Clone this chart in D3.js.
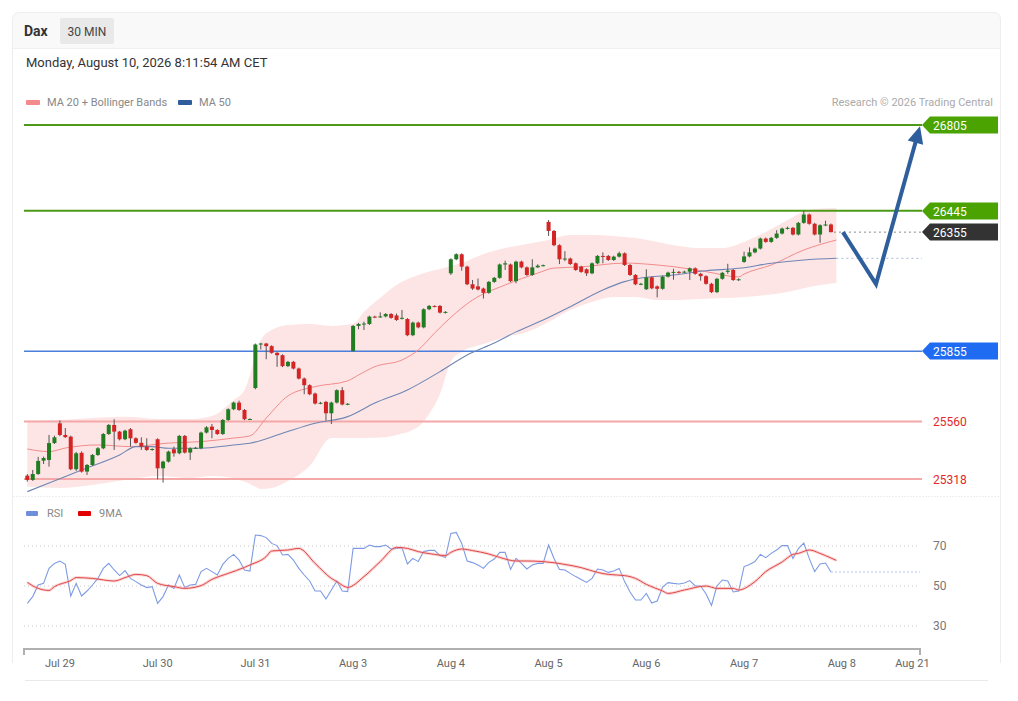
<!DOCTYPE html>
<html>
<head>
<meta charset="utf-8">
<script src="https://cdn.jsdelivr.net/npm/d3@7"></script>
<style>
  body { margin: 0; background: #fff; font-family: Roboto, Arial, sans-serif; }
</style>
</head>
<body>
<svg id="chart"></svg>
<script>
// ---- data (30 min candles, index 0 = first candle) ----
var open = [25332,25314,25339,25395,25398,25469,25552,25503,25496,25359,25428,25349,25377,25419,25447,25507,25545,25517,25485,25527,
  25489,25470,25454,25440,25485,25363,25391,25443,25426,25499,25429,25447,25447,25513,25538,25524,25507,25566,25611,25639,
  25608,25569,25700,25883,25887,25876,25848,25838,25792,25810,25782,25740,25712,25677,25635,25642,25594,25639,25691,25631,
  25856,25961,25969,25969,26000,25998,26001,26011,26005,25992,25990,25922,25975,25955,26031,26045,26045,26017,26182,26241,
  26262,26210,26136,26127,26118,26100,26146,26163,26219,26219,26149,26231,26207,26175,26207,26214,26398,26360,26300,26241,
  26244,26224,26210,26199,26182,26224,26255,26255,26238,26252,26266,26217,26175,26136,26115,26165,26127,26117,26168,26185,
  26188,26186,26189,26203,26180,26170,26138,26103,26159,26188,26196,26154,26230,26253,26270,26286,26328,26314,26331,26349,
  26370,26373,26345,26394,26429,26390,26345,26384,26387];
var high = [25339,25356,25411,25412,25503,25500,25564,25532,25500,25432,25434,25381,25423,25452,25511,25549,25569,25520,25525,25532,
  25493,25493,25489,25447,25489,25395,25437,25454,25503,25503,25451,25453,25517,25540,25549,25527,25570,25615,25643,25647,
  25612,25573,25887,25890,25890,25880,25851,25842,25814,25814,25786,25744,25716,25681,25642,25646,25643,25695,25704,25637,
  25965,25974,25979,26004,26004,26018,26015,26015,26013,26028,25994,25979,25979,26035,26049,26047,26049,26023,26245,26266,
  26266,26214,26154,26160,26122,26150,26167,26223,26235,26223,26235,26235,26211,26241,26220,26219,26406,26364,26304,26275,
  26248,26228,26214,26203,26228,26259,26270,26259,26256,26273,26270,26221,26179,26142,26199,26169,26131,26172,26189,26201,
  26192,26193,26207,26207,26184,26174,26142,26163,26188,26222,26200,26161,26273,26291,26290,26332,26332,26335,26363,26374,
  26378,26377,26398,26445,26433,26394,26388,26403,26391];
var low = [25307,25310,25335,25381,25370,25465,25498,25490,25355,25352,25345,25335,25373,25415,25443,25503,25440,25480,25481,25454,
  25466,25440,25436,25437,25317,25303,25387,25412,25422,25425,25398,25444,25443,25509,25489,25503,25503,25562,25607,25604,
  25565,25566,25695,25862,25821,25844,25789,25788,25788,25778,25736,25674,25670,25631,25632,25563,25549,25635,25627,25628,
  25852,25947,25944,25965,25994,25995,25997,25991,25982,25988,25918,25918,25951,25951,26027,26039,26013,26013,26175,26237,
  26193,26132,26112,26110,26076,26096,26142,26159,26196,26145,26140,26203,26171,26171,26205,26211,26339,26296,26221,26233,
  26217,26192,26184,26171,26178,26220,26224,26234,26234,26248,26213,26171,26132,26132,26112,26115,26081,26113,26164,26155,
  26180,26182,26154,26176,26151,26134,26099,26099,26155,26180,26150,26150,26226,26249,26266,26282,26310,26310,26327,26345,
  26366,26341,26341,26390,26386,26341,26310,26380,26354];
var close = [25314,25339,25394,25406,25469,25493,25503,25494,25359,25426,25349,25377,25419,25447,25507,25545,25517,25485,25521,25489,
  25470,25454,25440,25444,25363,25391,25433,25426,25499,25429,25447,25449,25513,25535,25524,25507,25566,25611,25639,25608,
  25569,25570,25883,25887,25876,25848,25838,25792,25810,25782,25740,25712,25674,25635,25638,25594,25639,25691,25631,25634,
  25961,25969,25971,26000,25998,26001,26011,25995,25986,25995,25922,25975,25955,26031,26045,26043,26017,26020,26241,26262,
  26210,26136,26118,26114,26100,26146,26163,26219,26224,26149,26231,26207,26175,26207,26214,26216,26360,26300,26241,26244,
  26221,26196,26188,26182,26224,26255,26252,26238,26252,26266,26217,26175,26136,26138,26165,26119,26117,26168,26185,26188,
  26186,26189,26203,26180,26170,26138,26103,26159,26184,26193,26154,26157,26253,26270,26286,26328,26314,26331,26349,26370,
  26373,26345,26394,26429,26390,26345,26384,26387,26355];

// Bollinger bands (20)
var bandIdx   = [0,6,12,18,24,30,34,38,40,41,42,43,45,48,52,56,60,62,65,68,72,74,76,78,80,84,88,92,96,100,104,108,112,116,120,124,128,132,136,140,144,149];
var bandUpper = [25562,25566,25574,25579,25570,25570,25583,25650,25692,25755,25839,25902,25944,25965,25969,25961,25970,26020,26079,
  26133,26175,26190,26200,26213,26225,26263,26288,26305,26322,26343,26343,26339,26330,26314,26297,26288,26288,26314,26356,26406,26448,26456];
var bandLower = [25285,25280,25293,25314,25331,25322,25331,25322,25306,25297,25285,25276,25280,25310,25373,25490,25490,25490,25492,
  25503,25537,25591,25675,25810,25852,25885,25915,25936,25978,26028,26062,26083,26083,26070,26070,26074,26078,26083,26091,26104,26125,26141];

var ma20Idx = [0,4,7,13,19,26,32,38,41,44,48,53,59,61,64,69,72,75,78,82,88,94,97,102,110,116,119,125,131,132,137,143,149];
var ma20Val = [25444,25433,25448,25461,25454,25469,25475,25490,25499,25574,25667,25706,25730,25755,25790,25818,25860,25931,25997,26070,
  26133,26183,26204,26209,26225,26217,26210,26189,26167,26179,26217,26280,26322];

var ma50Idx = [0,4,10,17,20,23,26,32,38,41,47,53,59,64,70,76,81,86,90,95,100,106,110,113,119,125,131,137,143,149];
var ma50Val = [25265,25301,25356,25419,25454,25454,25447,25447,25461,25468,25510,25552,25580,25637,25692,25769,25839,25889,25936,25986,
  26042,26112,26147,26162,26175,26193,26203,26224,26238,26245];

var rsi = [41.3,44.7,50.5,51.3,58.8,61.3,62.5,60.8,45,51.3,45,47.5,50.5,53.8,58.8,61.3,58,55.2,57.7,53.8,
  52.2,50.5,49.2,49.7,41.3,44.7,50.5,48.8,55.5,49.2,50.5,50.8,57.2,58.8,57.2,55.5,60.8,63.8,65.8,63,
  58,57.5,75.5,75.2,74.2,71.3,70.2,65.5,65.8,63,58.8,55.5,52.5,47.5,47.5,43.5,48,52.5,47.5,47.2,
  68.8,68.8,68.8,70.5,69.7,69.7,70.5,68.5,68.8,69.2,61,63.8,62.2,67.2,67.8,67.8,65.2,64.2,76.3,76.8,
  71.3,62.5,61.7,60.5,58.8,61.8,63.5,66.8,66.8,58.3,63.8,61.3,58.5,60.5,61.3,61.3,70.5,63.8,58.3,58,
  56.3,54.7,53.3,51.8,53.8,58.5,58,56.8,57.5,58.8,52.2,47,43,43,46.3,41.5,42.5,49.5,51.7,51.3,
  51,51.5,52.7,50,50,46,40.3,50,53,52.5,47,47.5,59.7,60.8,62.2,65.8,64.2,66.3,68,70.2,
  70.2,63.8,68.7,71.5,63.8,57.2,61,61.5,57];

var ma9Idx = [0,2,4,5,8,9,12,16,18,20,22,24,27,29,32,34,37,40,41,44,45,48,50,53,56,57,59,62,65,68,70,72,75,77,78,80,82,85,87,90,
  92,95,99,102,105,107,110,112,114,117,118,121,125,127,130,131,134,136,139,141,142,144,146,147,149];
var ma9Val = [51.8,48.8,47.8,49.7,52.7,54.2,53.8,52.5,54.2,55.8,55.2,51.3,49.7,48.8,50.2,53.3,56.3,59.3,60.5,64.7,
  67.5,68,68.8,61.3,53.8,52.2,49.3,54.7,62.2,69.3,68.8,67.2,65.8,65.2,66.8,68.5,67.7,66,64.3,62.5,
  62.5,62.2,60.8,59.2,56.8,55.8,55.2,53.8,50.8,47.5,46.3,48,50,48.8,48.8,48,52.2,57.2,62,65.8,
  66.3,68,66.3,65.2,62.8];

var levels = [26805, 26445, 25855, 25560, 25318];
var levelKind = ["res", "res", "pivot", "sup", "sup"];
var lastPrice = 26355;

var forecastIdx = [150.2, 156.3, 164.4];
var forecastVal = [26355, 26137, 26800];

var tickIdx = [6, 24, 42, 60, 78, 96, 114, 132, 150, 163];
var tickLabels = ["Jul 29", "Jul 30", "Jul 31", "Aug 3", "Aug 4", "Aug 5", "Aug 6", "Aug 7", "Aug 8", "Aug 21"];
var rsiLevels = [70, 50, 30];

// ---- layout ----
var W = 1018, H = 701;
var plotLeft = 24, plotRight = 922;

var svg = d3.select("#chart").attr("width", W).attr("height", H);

var x = d3.scaleLinear().domain([0, 163]).range([27.3, 912.4]);
var y = d3.scaleLinear().domain([25318, 26805]).range([479, 125]);
var yr = d3.scaleLinear().domain([30, 70]).range([626, 546]);

var kindStyle = {
  res:   {line: "#4c9a17", w: 2,   tag: "#4aa300"},
  pivot: {line: "#4a7fdc", w: 1.5, tag: "#1f6bf2"},
  sup:   {line: "#f4a8a8", w: 2,   tag: null, text: "#e02a2a"}
};

// card
svg.append("path")
  .attr("d", "M13,48 V20 Q13,13 20,13 H993 Q1000,13 1000,20 V48 Z")
  .attr("fill", "#f9f9f9");
svg.append("path")
  .attr("d", "M12.5,663 V20 Q12.5,12.5 20,12.5 H993 Q1000.5,12.5 1000.5,20 V663")
  .attr("fill", "none").attr("stroke", "#ededed");
svg.append("line").attr("x1", 13).attr("x2", 1000).attr("y1", 48.5).attr("y2", 48.5).attr("stroke", "#f0f0f0");
svg.append("line").attr("x1", 13).attr("x2", 1000).attr("y1", 496.5).attr("y2", 496.5)
  .attr("stroke", "#eeeeee").attr("stroke-dasharray", "2,1");
svg.append("line").attr("x1", 25).attr("x2", 988).attr("y1", 680.5).attr("y2", 680.5).attr("stroke", "#e9e9e9");

// header
svg.append("text").attr("x", 24).attr("y", 36).attr("font-size", 14).attr("font-weight", "bold")
  .attr("fill", "#333").text("Dax");
svg.append("rect").attr("x", 60).attr("y", 18).attr("width", 54).attr("height", 26).attr("rx", 2).attr("fill", "#e9e9e9");
svg.append("text").attr("x", 87).attr("y", 35.5).attr("text-anchor", "middle").attr("font-size", 12)
  .attr("fill", "#444").text("30 MIN");
svg.append("text").attr("x", 26).attr("y", 67).attr("font-size", 13).attr("fill", "#333")
  .text("Monday, August 10, 2026 8:11:54 AM CET");

// legend
svg.append("rect").attr("x", 26).attr("y", 100).attr("width", 14).attr("height", 5).attr("rx", 1).attr("fill", "#f58a8a");
svg.append("text").attr("x", 47).attr("y", 106).attr("font-size", 11).attr("fill", "#888").text("MA 20 + Bollinger Bands");
svg.append("rect").attr("x", 178).attr("y", 100).attr("width", 14).attr("height", 5).attr("rx", 1).attr("fill", "#2f5d9c");
svg.append("text").attr("x", 199).attr("y", 106).attr("font-size", 11).attr("fill", "#888").text("MA 50");
svg.append("text").attr("x", 993).attr("y", 106).attr("text-anchor", "end").attr("font-size", 11)
  .attr("fill", "#aaa").text("Research \u00a9 2026 Trading Central");

// bollinger band
var bandData = bandIdx.map(function (d, i) { return {i: d, up: bandUpper[i], lo: bandLower[i]}; });
svg.append("path").datum(bandData)
  .attr("d", d3.area().curve(d3.curveMonotoneX)
    .x(function (d) { return x(d.i); })
    .y0(function (d) { return y(d.lo); })
    .y1(function (d) { return y(d.up); }))
  .attr("fill", "#fde5e5");

// levels
levels.forEach(function (v, i) {
  var s = kindStyle[levelKind[i]];
  svg.append("line").attr("x1", plotLeft).attr("x2", plotRight)
    .attr("y1", y(v)).attr("y2", y(v))
    .attr("stroke", s.line).attr("stroke-width", s.w);
});

// moving averages
var lineGen = d3.line().curve(d3.curveMonotoneX)
  .x(function (d) { return x(d[0]); })
  .y(function (d) { return y(d[1]); });
svg.append("path").datum(ma20Idx.map(function (d, i) { return [d, ma20Val[i]]; }))
  .attr("d", lineGen).attr("fill", "none").attr("stroke", "#f28c8c").attr("stroke-width", 1);
svg.append("path").datum(ma50Idx.map(function (d, i) { return [d, ma50Val[i]]; }))
  .attr("d", lineGen).attr("fill", "none").attr("stroke", "#6f86b4").attr("stroke-width", 1.1);

// dotted projections
var lastMa50 = ma50Val[ma50Val.length - 1];
svg.append("line").attr("x1", x(ma50Idx[ma50Idx.length - 1])).attr("x2", plotRight)
  .attr("y1", y(lastMa50)).attr("y2", y(lastMa50))
  .attr("stroke", "#a9b8d8").attr("stroke-width", 1).attr("stroke-dasharray", "2,3");
svg.append("line").attr("x1", x(close.length - 1) + 3).attr("x2", plotRight)
  .attr("y1", y(lastPrice)).attr("y2", y(lastPrice))
  .attr("stroke", "#888").attr("stroke-width", 1).attr("stroke-dasharray", "2,3");

// candles
var candles = close.map(function (c, i) {
  return {i: i, o: open[i], h: high[i], l: low[i], c: c};
});
var cg = svg.append("g");
cg.selectAll("line.wick").data(candles).enter().append("line")
  .attr("x1", function (d) { return x(d.i); })
  .attr("x2", function (d) { return x(d.i); })
  .attr("y1", function (d) { return y(d.h); })
  .attr("y2", function (d) { return y(d.l); })
  .attr("stroke", "#555").attr("stroke-width", 1);
cg.selectAll("rect.body").data(candles).enter().append("rect")
  .attr("x", function (d) { return x(d.i) - 2; })
  .attr("width", 4)
  .attr("y", function (d) { return y(Math.max(d.o, d.c)); })
  .attr("height", function (d) { return Math.max(1, Math.abs(y(d.o) - y(d.c))); })
  .attr("fill", function (d) { return d.c >= d.o ? "#217d21" : "#d42424"; });

// forecast arrow
var fp = forecastIdx.map(function (d, i) { return [x(d), y(forecastVal[i])]; });
var tip = fp[fp.length - 1], prev = fp[fp.length - 2];
var dx = tip[0] - prev[0], dy = tip[1] - prev[1], len = Math.sqrt(dx * dx + dy * dy);
var ux = dx / len, uy = dy / len, nx = -uy, ny = ux;
var shaft = fp.slice(0, -1).concat([[tip[0] - ux * 12, tip[1] - uy * 12]]);
svg.append("path").attr("d", d3.line()(shaft)).attr("fill", "none")
  .attr("stroke", "#2e5f9c").attr("stroke-width", 4).attr("stroke-linejoin", "miter");
svg.append("path").attr("d", d3.line()([
    tip,
    [tip[0] - ux * 17 + nx * 8, tip[1] - uy * 17 + ny * 8],
    [tip[0] - ux * 17 - nx * 8, tip[1] - uy * 17 - ny * 8]
  ]) + "Z").attr("fill", "#2e5f9c");

// level tags
function tag(v, fill) {
  var yc = Math.round(y(v));
  svg.append("path")
    .attr("d", "M922," + yc + " L930," + (yc - 8.5) + " H998 V" + (yc + 8.5) + " H930 Z")
    .attr("fill", fill);
  svg.append("text").attr("x", 933).attr("y", yc + 4.5).attr("font-size", 12).attr("fill", "#fff").text(v);
}
levels.forEach(function (v, i) {
  var s = kindStyle[levelKind[i]];
  if (s.tag) tag(v, s.tag);
  else svg.append("text").attr("x", 933).attr("y", Math.round(y(v)) + 4.5).attr("font-size", 12)
    .attr("fill", s.text).text(v);
});
tag(lastPrice, "#333333");

// ---- RSI panel ----
svg.append("rect").attr("x", 26).attr("y", 511).attr("width", 12).attr("height", 5).attr("rx", 1).attr("fill", "#6f8fdc");
svg.append("text").attr("x", 47).attr("y", 517).attr("font-size", 11).attr("fill", "#888").text("RSI");
svg.append("rect").attr("x", 78).attr("y", 511).attr("width", 13).attr("height", 5).attr("rx", 1).attr("fill", "#e00000");
svg.append("text").attr("x", 99).attr("y", 517).attr("font-size", 11).attr("fill", "#888").text("9MA");

rsiLevels.forEach(function (v) {
  svg.append("line").attr("x1", plotLeft).attr("x2", 920).attr("y1", yr(v)).attr("y2", yr(v))
    .attr("stroke", "#c8c8c8").attr("stroke-width", 1).attr("stroke-dasharray", "1,3");
  svg.append("text").attr("x", 933).attr("y", yr(v) + 4).attr("font-size", 12).attr("fill", "#777").text(v);
});

var rsiLine = d3.line().x(function (d, i) { return x(i); }).y(function (d) { return yr(d); });
svg.append("path").datum(rsi).attr("d", rsiLine).attr("fill", "none")
  .attr("stroke", "#7d9be4").attr("stroke-width", 1.1);
svg.append("line").attr("x1", x(rsi.length - 1)).attr("x2", 920)
  .attr("y1", yr(rsi[rsi.length - 1])).attr("y2", yr(rsi[rsi.length - 1]))
  .attr("stroke", "#b4c4ea").attr("stroke-width", 1.2).attr("stroke-dasharray", "2,2");

var ma9Line = d3.line().curve(d3.curveMonotoneX)
  .x(function (d) { return x(d[0]); }).y(function (d) { return yr(d[1]); });
var ma9Data = ma9Idx.map(function (d, i) { return [d, ma9Val[i]]; });
svg.append("path").datum(ma9Data).attr("d", ma9Line).attr("fill", "none")
  .attr("stroke", "#f4a0a0").attr("stroke-width", 3).attr("opacity", 0.45);
svg.append("path").datum(ma9Data).attr("d", ma9Line).attr("fill", "none")
  .attr("stroke", "#e04848").attr("stroke-width", 1);

// time axis
svg.append("path").attr("d", "M24,655 V649 H920 V655").attr("fill", "none")
  .attr("stroke", "#b0b0b0").attr("stroke-width", 2);
svg.selectAll("text.tick").data(tickIdx).enter().append("text")
  .attr("x", function (d) { return x(d); })
  .attr("y", 667)
  .attr("text-anchor", "middle").attr("font-size", 11).attr("fill", "#666")
  .text(function (d, i) { return tickLabels[i]; });
</script>
</body>
</html>
